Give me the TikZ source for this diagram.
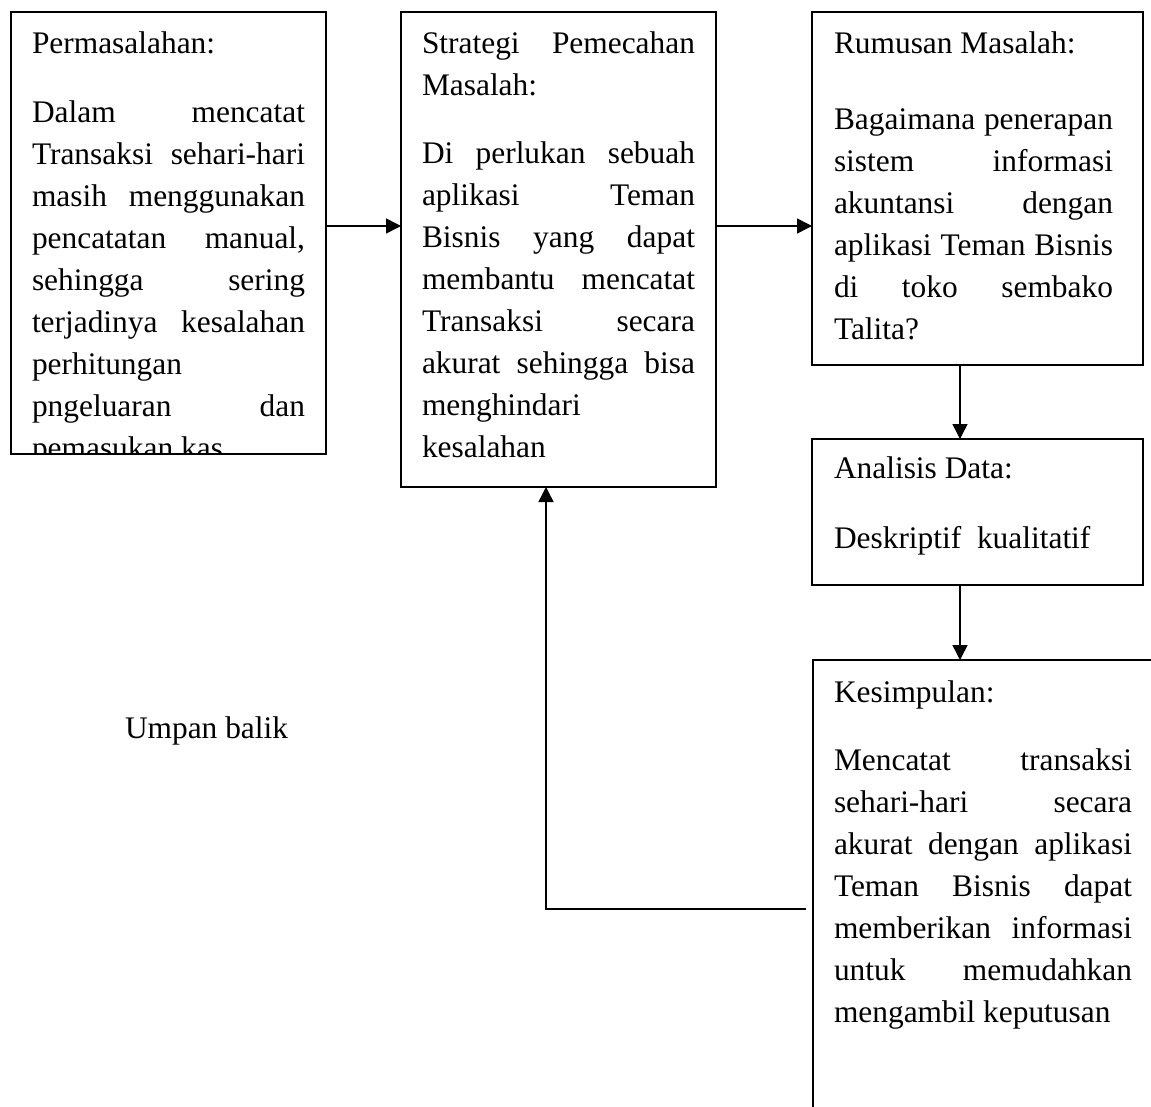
\documentclass[tikz,border=0pt]{standalone}
\usepackage{fontspec}
\setmainfont{Liberation Serif}
\usetikzlibrary{arrows.meta}
\newcommand\J[1]{{\spaceskip=0pt\xspaceskip=0pt\makebox[\hsize][s]{#1}}}
\newcommand\natsp{\spaceskip=0pt\xspaceskip=0pt\relax}
\begin{document}
\begin{tikzpicture}[x=1pt,y=-1pt,
  box/.style={draw, line width=1.8pt, rectangle, inner sep=0pt, outer sep=0pt, anchor=north west},
  txt/.style={anchor=base west, inner sep=0pt, outer sep=0pt, align=left, font=\fontsize{31.4}{42}\selectfont},
  arr/.style={line width=1.5pt, -{Triangle[length=15pt,width=15pt]}}]
\useasboundingbox (0,0) rectangle (1151,1106);

% boxes
\node[box, minimum width=315pt, minimum height=442pt] (b1) at (11,12) {};
\node[box, minimum width=315pt, minimum height=475pt] (b2) at (401,12) {};
\node[box, minimum width=331pt, minimum height=353pt] (b3) at (812,12) {};
\node[box, minimum width=331pt, minimum height=146pt] (b4) at (812,439) {};
\node[box, minimum width=352pt, minimum height=465pt] (b5) at (813,660) {};

% texts
\begin{scope}
\clip (12,13) rectangle (325,452);
\node[txt, text width=273pt] (t1) at (32,53) {\natsp Permasalahan:\\[27pt]
\J{Dalam mencatat}\\
\J{Transaksi sehari-hari}\\
\J{masih menggunakan}\\
\J{pencatatan manual,}\\
\J{sehingga sering}\\
\J{terjadinya kesalahan}\\
perhitungan\\
\J{pngeluaran dan}\\
pemasukan kas};
\end{scope}

\node[txt, text width=273pt] (t2) at (422,53) {\natsp\J{Strategi Pemecahan}\\
Masalah:\\[26pt]
\J{Di perlukan sebuah}\\
\J{aplikasi Teman}\\
\J{Bisnis yang dapat}\\
\J{membantu mencatat}\\
\J{Transaksi secara}\\
\J{akurat sehingga bisa}\\
menghindari\\
kesalahan};

\node[txt, text width=279pt] (t3) at (834,53) {\natsp Rumusan Masalah:\\[34pt]
\J{Bagaimana penerapan}\\
\J{sistem informasi}\\
\J{akuntansi dengan}\\
\J{aplikasi Teman Bisnis}\\
\J{di toko sembako}\\
Talita?};

\node[txt, text width=279pt] (t4) at (834,478) {\natsp Analisis Data:\\[28pt]
Deskriptif\ \ kualitatif};

\node[txt, text width=298pt] (t5) at (834,702) {\natsp Kesimpulan:\\[26pt]
\J{Mencatat transaksi}\\
\J{sehari-hari secara}\\
\J{akurat dengan aplikasi}\\
\J{Teman Bisnis dapat}\\
\J{memberikan informasi}\\
\J{untuk memudahkan}\\
mengambil keputusan};

\node[txt] (ub) at (125,738) {\natsp Umpan balik};

% connectors
\coordinate (row) at (0,226);
\coordinate (col) at (960,0);
\coordinate (fbx) at (546,0);
\coordinate (fbs) at (806,909);

\draw[arr] (b1.east |- row) -- (b2.west |- row);
\draw[arr] (b2.east |- row) -- (b3.west |- row);
\draw[arr] (b3.south -| col) -- (b4.north -| col);
\draw[arr] (b4.south -| col) -- (b5.north -| col);
\draw[arr] (fbs) -| (b2.south -| fbx);
\end{tikzpicture}
\end{document}
